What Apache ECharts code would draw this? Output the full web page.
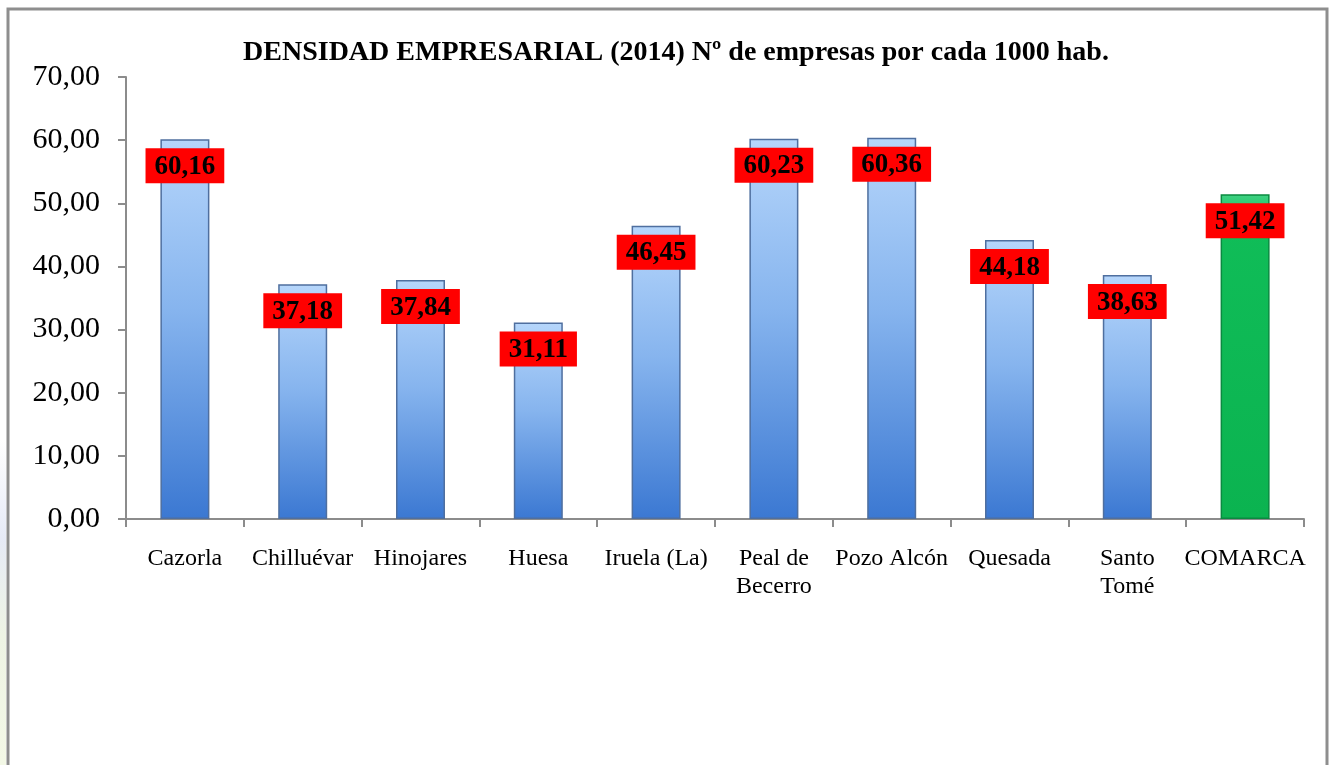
<!DOCTYPE html>
<html lang="es">
<head>
    <meta charset="UTF-8">
    <title>Densidad empresarial 2014</title>
    <style>
        html, body { margin: 0; padding: 0; background: #fff; }
        #chart { width: 1329px; height: 765px; }
    </style>
    <script src="https://cdn.jsdelivr.net/npm/echarts@6/dist/echarts.min.js"></script>
</head>
<body>
<div id="chart"></div>
<script>
    // datos del gráfico
    var municipios = ['Cazorla', 'Chilluévar', 'Hinojares', 'Huesa', 'Iruela (La)',
        'Peal de\nBecerro', 'Pozo Alcón', 'Quesada', 'Santo\nTomé', 'COMARCA'];
    var densidad = [60.16, 37.18, 37.84, 31.11, 46.45, 60.23, 60.36, 44.18, 38.63, 51.42];
    var yMax = 70, yStep = 10;

    var serif = "'Liberation Serif', 'DejaVu Serif', serif";

    function fmt(v) {
        return v.toFixed(2).replace('.', ',');
    }

    var azul = {
        type: 'linear', x: 0, y: 0, x2: 0, y2: 1,
        colorStops: [
            {offset: 0, color: '#b6d6fb'},
            {offset: 0.45, color: '#86b4ee'},
            {offset: 1, color: '#3b78d2'}
        ]
    };
    var verde = {
        type: 'linear', x: 0, y: 0, x2: 0, y2: 1,
        colorStops: [
            {offset: 0, color: '#3fd283'},
            {offset: 0.08, color: '#10bd58'},
            {offset: 1, color: '#0bb350'}
        ]
    };

    var datos = densidad.map(function (v, i) {
        var ultimo = i === densidad.length - 1;
        return {
            value: v,
            itemStyle: {
                color: ultimo ? verde : azul,
                borderColor: ultimo ? '#0a8a40' : '#4f6f9f',
                borderWidth: 1.5
            }
        };
    });

    var myChart = echarts.init(document.getElementById('chart'));
    myChart.setOption({
        animation: false,
        title: {
            text: 'DENSIDAD EMPRESARIAL (2014) Nº de empresas por cada 1000 hab.',
            left: 671,
            textAlign: 'center',
            top: 34,
            textStyle: {
                fontFamily: serif,
                fontWeight: 'bold',
                fontSize: 28,
                color: '#000'
            }
        },
        graphic: [
            {
                type: 'rect',
                z: -1,
                shape: {x: 0, y: 440, width: 6, height: 325},
                style: {
                    fill: {
                        type: 'linear', x: 0, y: 0, x2: 0, y2: 1,
                        colorStops: [
                            {offset: 0, color: '#ffffff'},
                            {offset: 0.3, color: '#e6eaf6'},
                            {offset: 0.6, color: '#eef4e4'},
                            {offset: 1, color: '#f3f8e6'}
                        ]
                    }
                },
                silent: true
            },
            {
                type: 'rect',
                shape: {x: 8, y: 9, width: 1319, height: 800},
                style: {fill: 'none', stroke: '#8e8e8e', lineWidth: 3},
                silent: true
            }
        ],
        grid: {
            left: 126,
            right: 25,
            top: 77,
            bottom: 246,
            containLabel: false
        },
        xAxis: {
            type: 'category',
            data: municipios,
            axisLine: {lineStyle: {color: '#8c8c8c', width: 2}},
            axisTick: {show: true, length: 8, alignWithLabel: false, lineStyle: {color: '#8c8c8c', width: 2}},
            axisLabel: {
                interval: 0,
                margin: 26,
                fontFamily: serif,
                fontSize: 24,
                lineHeight: 28,
                color: '#000'
            }
        },
        yAxis: {
            type: 'value',
            min: 0,
            max: yMax,
            interval: yStep,
            axisLine: {show: true, lineStyle: {color: '#8c8c8c', width: 2}},
            axisTick: {show: true, length: 8, lineStyle: {color: '#8c8c8c', width: 2}},
            splitLine: {show: false},
            axisLabel: {
                margin: 26,
                fontFamily: serif,
                fontSize: 30,
                color: '#000',
                formatter: function (v) { return fmt(v); }
            }
        },
        series: [{
            type: 'bar',
            data: datos,
            barWidth: 49,
            label: {
                show: true,
                position: 'insideTop',
                distance: 9,
                formatter: function (p) { return fmt(p.value); },
                backgroundColor: '#ff0000',
                padding: [5, 9, 3, 9],
                fontFamily: serif,
                fontWeight: 'bold',
                fontSize: 27,
                color: '#000'
            }
        }]
    });
</script>
</body>
</html>
